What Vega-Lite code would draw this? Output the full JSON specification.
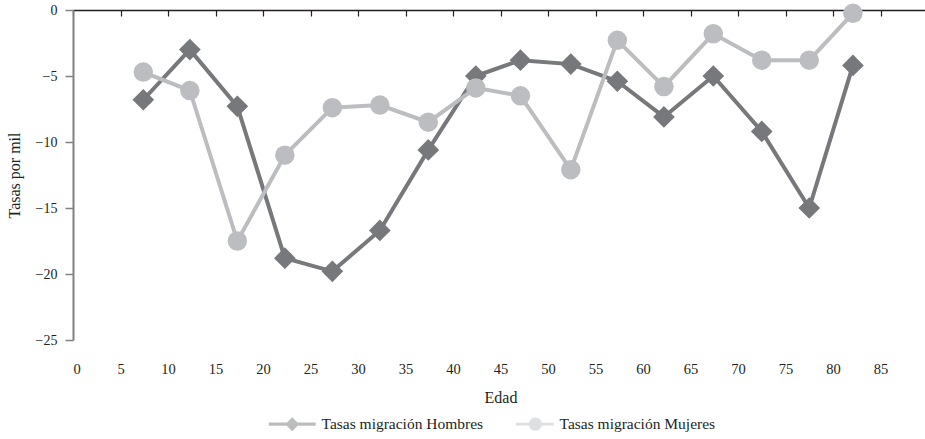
{
  "$schema": "https://vega.github.io/schema/vega-lite/v6.json",
  "width": 855,
  "height": 330,
  "autosize": {"type": "none"},
  "padding": {"left": 73, "top": 10, "right": 0, "bottom": 99},
  "config": {
    "view": {"stroke": null},
    "font": "Liberation Serif",
    "axis": {"labelFont": "Liberation Serif", "titleFont": "Liberation Serif", "labelColor": "#231f20", "titleColor": "#231f20", "titleFontWeight": "normal", "grid": false}
  },
  "data": {
    "values": [
      {"edad": 7.4, "serie": "Tasas migración Hombres", "tasa": -6.8},
      {"edad": 12.3, "serie": "Tasas migración Hombres", "tasa": -3.0},
      {"edad": 17.3, "serie": "Tasas migración Hombres", "tasa": -7.3},
      {"edad": 22.3, "serie": "Tasas migración Hombres", "tasa": -18.8},
      {"edad": 27.3, "serie": "Tasas migración Hombres", "tasa": -19.8},
      {"edad": 32.3, "serie": "Tasas migración Hombres", "tasa": -16.7},
      {"edad": 37.4, "serie": "Tasas migración Hombres", "tasa": -10.6},
      {"edad": 42.4, "serie": "Tasas migración Hombres", "tasa": -5.0},
      {"edad": 47.1, "serie": "Tasas migración Hombres", "tasa": -3.8},
      {"edad": 52.4, "serie": "Tasas migración Hombres", "tasa": -4.1},
      {"edad": 57.3, "serie": "Tasas migración Hombres", "tasa": -5.4},
      {"edad": 62.2, "serie": "Tasas migración Hombres", "tasa": -8.1},
      {"edad": 67.4, "serie": "Tasas migración Hombres", "tasa": -5.0},
      {"edad": 72.5, "serie": "Tasas migración Hombres", "tasa": -9.2},
      {"edad": 77.5, "serie": "Tasas migración Hombres", "tasa": -15.0},
      {"edad": 82.1, "serie": "Tasas migración Hombres", "tasa": -4.2},
      {"edad": 7.4, "serie": "Tasas migración Mujeres", "tasa": -4.7},
      {"edad": 12.3, "serie": "Tasas migración Mujeres", "tasa": -6.1},
      {"edad": 17.3, "serie": "Tasas migración Mujeres", "tasa": -17.5},
      {"edad": 22.3, "serie": "Tasas migración Mujeres", "tasa": -11.0},
      {"edad": 27.3, "serie": "Tasas migración Mujeres", "tasa": -7.4},
      {"edad": 32.3, "serie": "Tasas migración Mujeres", "tasa": -7.2},
      {"edad": 37.4, "serie": "Tasas migración Mujeres", "tasa": -8.5},
      {"edad": 42.4, "serie": "Tasas migración Mujeres", "tasa": -5.9},
      {"edad": 47.1, "serie": "Tasas migración Mujeres", "tasa": -6.5},
      {"edad": 52.4, "serie": "Tasas migración Mujeres", "tasa": -12.1},
      {"edad": 57.3, "serie": "Tasas migración Mujeres", "tasa": -2.3},
      {"edad": 62.2, "serie": "Tasas migración Mujeres", "tasa": -5.8},
      {"edad": 67.4, "serie": "Tasas migración Mujeres", "tasa": -1.8},
      {"edad": 72.5, "serie": "Tasas migración Mujeres", "tasa": -3.8},
      {"edad": 77.5, "serie": "Tasas migración Mujeres", "tasa": -3.8},
      {"edad": 82.1, "serie": "Tasas migración Mujeres", "tasa": -0.25}
    ]
  },
  "encoding": {
    "y": {"field": "tasa", "type": "quantitative", "scale": {"domain": [-25, 0], "nice": false},
      "axis": {"values": [-25,-20,-15,-10,-5,0], "title": "Tasas por mil", "titleFontSize": 16, "titlePadding": 13, "labelFontSize": 14, "labelPadding": 8, "domainColor": "#808080", "domainWidth": 2, "tickColor": "#808080", "tickWidth": 1.5, "tickSize": 8}}
  },
  "layer": [
    {
      "transform": [{"filter": "datum.serie === 'Tasas migración Hombres'"}],
      "mark": {"type": "line", "color": "#77787b", "strokeWidth": 4},
      "encoding": {
        "x": {"field": "edad", "type": "quantitative", "scale": {"domain": [0, 90], "nice": false, "zero": false},
          "axis": {"orient": "top", "values": [0,5,10,15,20,25,30,35,40,45,50,55,60,65,70,75,80,85], "labels": false, "title": null, "domain": true, "domainColor": "#231f20", "domainWidth": 1.5, "ticks": true, "tickColor": "#231f20", "tickWidth": 1.2, "tickSize": -6}}
      }
    },
    {
      "transform": [{"filter": "datum.serie === 'Tasas migración Hombres'"}],
      "mark": {"type": "point", "shape": "diamond", "filled": true, "opacity": 1, "color": "#77787b", "size": 470},
      "encoding": {
        "x": {"field": "edad", "type": "quantitative",
          "axis": {"orient": "bottom", "values": [0,5,10,15,20,25,30,35,40,45,50,55,60,65,70,75,80,85], "domain": false, "ticks": false, "tickSize": 0, "labelPadding": 22, "labelFontSize": 14.5, "title": "Edad", "titleFontSize": 16, "titlePadding": 14}}
      }
    },
    {
      "transform": [{"filter": "datum.serie === 'Tasas migración Mujeres'"}],
      "mark": {"type": "line", "color": "#bcbdc0", "strokeWidth": 4},
      "encoding": {
        "x": {"field": "edad", "type": "quantitative", "axis": null}
      }
    },
    {
      "transform": [{"filter": "datum.serie === 'Tasas migración Mujeres'"}],
      "mark": {"type": "point", "shape": "circle", "filled": true, "opacity": 1, "color": "#bcbdc0", "size": 380},
      "encoding": {
        "x": {"field": "edad", "type": "quantitative", "axis": null}
      }
    },
    {
      "transform": [{"filter": "datum.tasa > 100"}],
      "mark": {"type": "point", "filled": true},
      "encoding": {
        "x": {"field": "edad", "type": "quantitative", "axis": null},
        "color": {"field": "serie", "type": "nominal",
          "scale": {"domain": ["Tasas migración Hombres", "Tasas migración Mujeres"], "range": ["#77787b", "#bcbdc0"]},
          "legend": {"orient": "none", "legendX": 195, "legendY": 406, "direction": "horizontal", "title": null, "symbolOpacity": 1, "symbolSize": 196, "symbolStrokeWidth": 0, "labelOffset": 38, "columnPadding": 22, "labelFontSize": 15.5, "labelLimit": 0, "labelFont": "Liberation Serif", "labelColor": "#231f20"}},
        "shape": {"field": "serie", "type": "nominal",
          "scale": {"domain": ["Tasas migración Hombres", "Tasas migración Mujeres"], "range": ["M-1,-0.22H5.7V0.22H-1Z M2.35,-1L3.35,0L2.35,1L1.35,0Z", "M0.29,-0.2H5.71V0.2H0.29Z M4.03,0A0.93,0.93 0 1,1 2.17,0A0.93,0.93 0 1,1 4.03,0Z"]}}
      }
    }
  ],
  "resolve": {"axis": {"x": "independent"}}
}
